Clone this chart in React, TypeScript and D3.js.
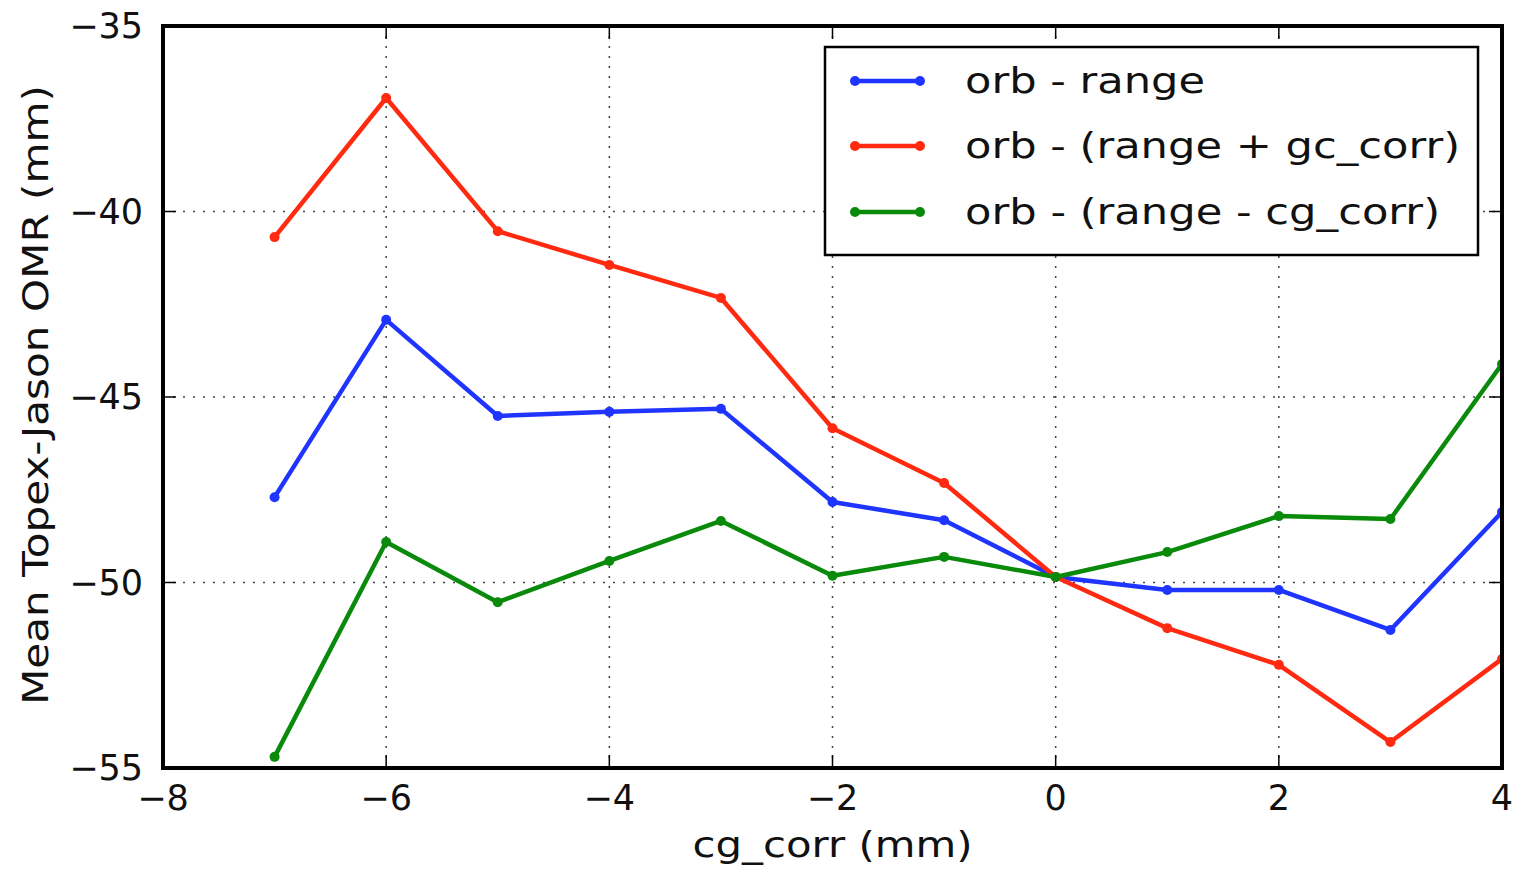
import React from "react";
import * as d3 from "d3";

const cgCorr = [-7, -6, -5, -4, -3, -2, -1, 0, 1, 2, 3, 4];
const orbRange = [-47.7, -42.92, -45.51, -45.4, -45.32, -47.83, -48.32, -49.85, -50.2, -50.2, -51.28, -48.1];
const orbRangePlusGc = [-40.69, -36.94, -40.53, -41.44, -42.33, -45.84, -47.32, -49.85, -51.23, -52.22, -54.3, -52.06];
const orbRangeMinusCg = [-54.7, -48.91, -50.53, -49.42, -48.34, -49.82, -49.31, -49.85, -49.18, -48.21, -48.29, -44.11];

const seriesNames = ["orb - range", "orb - (range + gc_corr)", "orb - (range - cg_corr)"];
const seriesColors = ["#1f35ff", "#ff2a10", "#0a8a0a"];
const xTicks = [-8, -6, -4, -2, 0, 2, 4];
const yTicks = [-35, -40, -45, -50, -55];

const W = 1513;
const H = 870;
const left = 163;
const right = 1502;
const top = 26;
const bottom = 768;
const FONT = "DejaVu Sans, sans-serif";

// rendered widths of the wide-set labels
const legendTextWidths = [240, 495, 475];
const xTitleWidth = 280;
const yTitleWidth = 620;

export default function App() {
  const x = d3.scaleLinear().domain([-8, 4]).range([left, right]);
  const y = d3.scaleLinear().domain([-55, -35]).range([bottom, top]);
  const line = d3
    .line<number>()
    .x((_, i) => x(cgCorr[i]))
    .y((d) => y(d));
  const allSeries = [orbRange, orbRangePlusGc, orbRangeMinusCg];
  const fmt = (v: number) => (v < 0 ? "\u2212" + Math.abs(v) : String(v));

  const legX = 825;
  const legY = 47;
  const legW = 653;
  const legH = 208;
  const rowY = [81, 146, 212];

  return (
    <svg
      width={W}
      height={H}
      style={{ position: "absolute", left: 0, top: 0, background: "#fff" }}
      fontFamily={FONT}
    >
      <defs>
        <clipPath id="plotClip">
          <rect x={left} y={top} width={right - left} height={bottom - top} />
        </clipPath>
      </defs>
      {/* grid */}
      {xTicks.map((t) => (
        <line
          key={"gx" + t}
          x1={x(t)}
          x2={x(t)}
          y1={top}
          y2={bottom}
          stroke="#444"
          strokeWidth={1.5}
          strokeDasharray="2 8"
        />
      ))}
      {yTicks.map((t) => (
        <line
          key={"gy" + t}
          x1={left}
          x2={right}
          y1={y(t)}
          y2={y(t)}
          stroke="#444"
          strokeWidth={1.5}
          strokeDasharray="2 8"
        />
      ))}
      {/* series */}
      <g clipPath="url(#plotClip)">
        {allSeries.map((s, k) => (
          <g key={"s" + k}>
            <path d={line(s) || ""} fill="none" stroke={seriesColors[k]} strokeWidth={4.5} strokeLinejoin="round" />
            {s.map((v, i) => (
              <circle key={i} cx={x(cgCorr[i])} cy={y(v)} r={5} fill={seriesColors[k]} />
            ))}
          </g>
        ))}
      </g>
      {/* ticks */}
      {xTicks.map((t) => (
        <g key={"tx" + t}>
          <line x1={x(t)} x2={x(t)} y1={bottom} y2={bottom - 13} stroke="#000" strokeWidth={1.5} />
          <line x1={x(t)} x2={x(t)} y1={top} y2={top + 13} stroke="#000" strokeWidth={1.5} />
          <text x={x(t)} y={bottom + 42} textAnchor="middle" fontSize={35} fill="#111">
            {fmt(t)}
          </text>
        </g>
      ))}
      {yTicks.map((t) => (
        <g key={"ty" + t}>
          <line x1={left} x2={left + 13} y1={y(t)} y2={y(t)} stroke="#000" strokeWidth={1.5} />
          <line x1={right} x2={right - 13} y1={y(t)} y2={y(t)} stroke="#000" strokeWidth={1.5} />
          <text x={left - 20} y={y(t) + 12} textAnchor="end" fontSize={35} fill="#111">
            {fmt(t)}
          </text>
        </g>
      ))}
      {/* frame */}
      <rect x={left} y={top} width={right - left} height={bottom - top} fill="none" stroke="#000" strokeWidth={4} />
      {/* axis titles */}
      <text
        x={(left + right) / 2 - xTitleWidth / 2}
        y={857}
        fontSize={36}
        fill="#111"
        textLength={xTitleWidth}
        lengthAdjust="spacingAndGlyphs"
      >
        cg_corr (mm)
      </text>
      <text
        transform={`translate(48, ${395 + yTitleWidth / 2}) rotate(-90)`}
        fontSize={36}
        fill="#111"
        textLength={yTitleWidth}
        lengthAdjust="spacingAndGlyphs"
      >
        Mean Topex-Jason OMR (mm)
      </text>
      {/* legend */}
      <rect x={legX} y={legY} width={legW} height={legH} fill="#fff" stroke="#000" strokeWidth={2.5} />
      {seriesNames.map((n, k) => (
        <g key={"l" + k}>
          <line x1={855} x2={920} y1={rowY[k]} y2={rowY[k]} stroke={seriesColors[k]} strokeWidth={4.5} />
          <circle cx={855} cy={rowY[k]} r={5} fill={seriesColors[k]} />
          <circle cx={920} cy={rowY[k]} r={5} fill={seriesColors[k]} />
          <text
            x={965}
            y={rowY[k] + 12}
            fontSize={36}
            fill="#111"
            textLength={legendTextWidths[k]}
            lengthAdjust="spacingAndGlyphs"
          >
            {n}
          </text>
        </g>
      ))}
    </svg>
  );
}
